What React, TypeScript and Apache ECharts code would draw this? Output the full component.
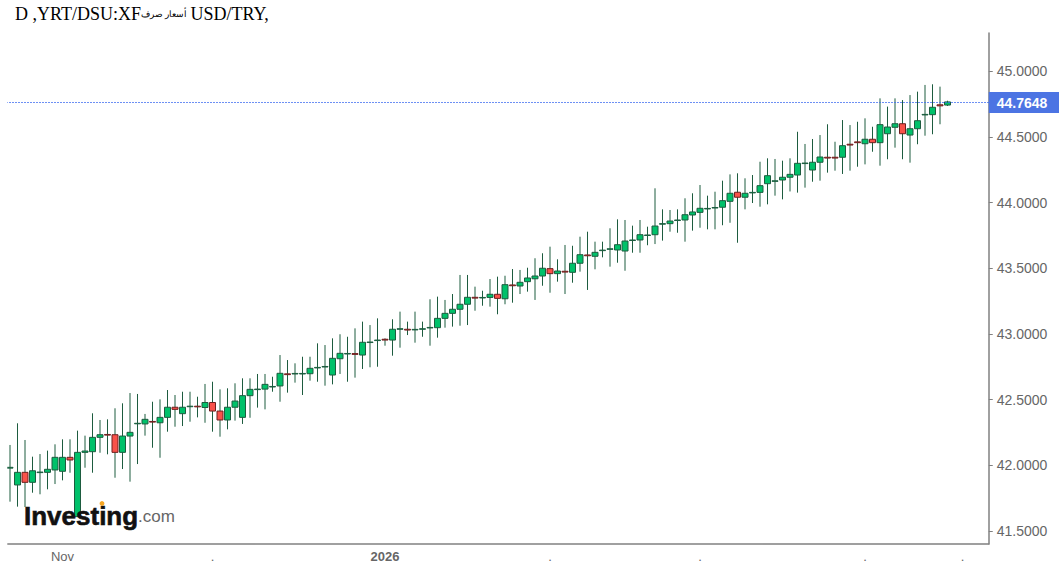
import React, { useEffect, useRef } from "react";
import * as echarts from "echarts";

const opens = [41.980,41.852,41.948,41.872,41.946,41.948,41.966,41.956,42.062,41.611,42.100,42.105,42.214,42.236,42.234,42.100,42.224,42.317,42.316,42.335,42.325,42.366,42.443,42.394,42.447,42.451,42.441,42.479,42.414,42.346,42.443,42.366,42.531,42.577,42.581,42.597,42.605,42.697,42.696,42.696,42.698,42.742,42.749,42.688,42.812,42.848,42.851,42.840,42.935,42.950,42.960,42.954,43.036,43.036,43.031,43.036,43.046,43.048,43.119,43.157,43.188,43.226,43.279,43.274,43.278,43.302,43.268,43.373,43.365,43.398,43.420,43.441,43.497,43.459,43.477,43.469,43.538,43.601,43.591,43.634,43.644,43.639,43.631,43.711,43.715,43.749,43.755,43.835,43.839,43.863,43.867,43.905,43.925,43.951,43.958,43.964,44.009,44.078,44.040,44.073,44.077,44.143,44.161,44.171,44.192,44.209,44.296,44.247,44.306,44.344,44.344,44.344,44.443,44.461,44.447,44.481,44.455,44.523,44.572,44.599,44.513,44.561,44.666,44.668,44.743,44.741];
const closes = [41.986,41.948,41.872,41.960,41.950,41.971,42.062,42.062,42.042,42.100,42.110,42.214,42.234,42.231,42.100,42.224,42.252,42.321,42.351,42.330,42.366,42.443,42.427,42.443,42.451,42.446,42.479,42.414,42.346,42.443,42.490,42.531,42.579,42.581,42.617,42.601,42.701,42.691,42.700,42.700,42.739,42.746,42.753,42.815,42.853,42.852,42.845,42.937,42.939,42.954,42.954,43.036,43.040,43.030,43.035,43.040,43.050,43.119,43.157,43.188,43.226,43.279,43.273,43.278,43.302,43.271,43.375,43.367,43.393,43.426,43.441,43.500,43.459,43.479,43.471,43.538,43.603,43.595,43.621,43.638,43.648,43.679,43.707,43.715,43.755,43.753,43.821,43.839,43.859,43.867,43.907,43.928,43.956,43.955,43.962,44.014,44.070,44.040,44.070,44.077,44.128,44.204,44.165,44.192,44.214,44.298,44.300,44.306,44.346,44.338,44.338,44.432,44.437,44.455,44.481,44.455,44.592,44.574,44.599,44.523,44.561,44.622,44.670,44.724,44.735,44.7648];
const lows = [41.725,41.687,41.684,41.793,41.781,41.819,41.859,41.887,41.945,41.611,41.983,41.945,42.097,42.085,41.907,41.973,41.877,42.011,42.227,42.135,42.059,42.257,42.295,42.300,42.333,42.366,42.325,42.257,42.219,42.275,42.341,42.316,42.363,42.440,42.427,42.561,42.485,42.554,42.630,42.536,42.645,42.637,42.607,42.617,42.696,42.637,42.668,42.734,42.747,42.751,42.911,42.835,42.896,42.992,42.934,42.979,42.911,42.972,43.048,43.056,43.063,43.068,43.177,43.215,43.208,43.150,43.226,43.238,43.304,43.322,43.259,43.367,43.314,43.398,43.304,43.390,43.474,43.335,43.492,43.583,43.512,43.542,43.481,43.618,43.618,43.675,43.684,43.710,43.778,43.770,43.702,43.786,43.808,43.796,43.796,43.827,43.846,43.694,43.948,43.996,43.968,43.986,44.052,44.024,44.084,44.075,44.113,44.158,44.166,44.227,44.242,44.217,44.242,44.272,44.290,44.386,44.280,44.329,44.417,44.329,44.303,44.443,44.508,44.519,44.595,44.734];
const highs = [42.156,42.321,42.194,42.067,42.087,42.113,42.161,42.199,42.199,42.265,42.227,42.397,42.346,42.351,42.435,42.473,42.551,42.544,42.392,42.485,42.503,42.574,42.536,42.561,42.561,42.523,42.620,42.637,42.579,42.587,42.625,42.663,42.663,42.696,42.696,42.675,42.840,42.802,42.777,42.827,42.827,42.929,42.916,42.967,42.998,42.979,43.043,43.094,43.068,43.119,42.967,43.112,43.170,43.094,43.170,43.094,43.264,43.284,43.259,43.304,43.449,43.449,43.360,43.329,43.418,43.436,43.443,43.494,43.487,43.504,43.576,43.614,43.664,43.568,43.677,43.671,43.740,43.778,43.702,43.702,43.804,43.872,43.867,43.824,43.867,43.816,44.108,43.948,43.943,43.948,44.032,44.070,44.133,44.052,44.082,44.166,44.214,44.222,44.184,44.209,44.310,44.336,44.331,44.318,44.336,44.538,44.445,44.483,44.513,44.595,44.462,44.627,44.589,44.614,44.640,44.576,44.792,44.729,44.792,44.779,44.817,44.843,44.894,44.899,44.881,44.774];

const emptySlots = 5;
const categories = [...opens.map((_, i) => String(i)), ...Array.from({ length: emptySlots }, (_, i) => String(opens.length + i))];
const timeLabels: Record<number, string> = { 7: "Nov", 27: ".", 50: "2026", 72: ".", 92: ".", 114: ".", 127: "." };
const priceTicks = [41.5, 42, 42.5, 43, 43.5, 44, 44.5, 45];
const lastPrice = 44.7648;
const titleLatinA = "D ,YRT/DSU:XF";
const titleArabic = "أسعار صرف";
const titleLatinB = "USD/TRY,";

const candleData = opens.map((o, i) => [i, o, closes[i], lows[i], highs[i]]);

const renderCandle = (_: any, api: any) => {
  const i = api.value(0);
  const o = api.value(1);
  const c = api.value(2);
  const up = c >= o;
  const [x, yTop] = api.coord([i, Math.max(o, c)]);
  const [, yBot] = api.coord([i, Math.min(o, c)]);
  const [, yLow] = api.coord([i, api.value(3)]);
  const [, yHigh] = api.coord([i, api.value(4)]);
  const w = 6;
  return {
    type: "group",
    children: [
      { type: "line", shape: { x1: x, y1: yHigh, x2: x, y2: yLow }, style: { stroke: "#1d5c3f", lineWidth: 1 } },
      {
        type: "rect",
        shape: { x: x - w / 2, y: yTop, width: w, height: Math.max(yBot - yTop, 0.5) },
        style: { fill: up ? "#00c16a" : "#f9524a", stroke: up ? "#1d5c3f" : "#6e1f1f", lineWidth: 1 },
      },
    ],
  };
};

export default function App() {
  const ref = useRef<HTMLDivElement>(null);
  useEffect(() => {
    document.body.style.margin = "0";
    document.body.style.overflow = "hidden";
    const chart = echarts.init(ref.current!, null, { renderer: "svg" });
    chart.setOption({
      animation: false,
      backgroundColor: "#ffffff",
      grid: { left: 6.25, right: 70.25, top: 33, bottom: 28 },
      xAxis: {
        type: "category",
        data: categories,
        boundaryGap: true,
        axisLine: { lineStyle: { color: "#808080", width: 1.5 } },
        axisTick: { alignWithLabel: true, length: 4, interval: (i: number) => i in timeLabels, lineStyle: { color: "#808080" } },
        axisLabel: {
          interval: (i: number) => i in timeLabels,
          margin: 6,
          fontFamily: "Liberation Sans",
          fontSize: 13,
          color: "#666666",
          hideOverlap: false,
          formatter: (_: string, i: number) => {
            const t = timeLabels[i] ?? "";
            return t === "2026" ? `{b|${t}}` : t;
          },
          rich: { b: { fontWeight: "bold", fontFamily: "Liberation Sans", fontSize: 13, color: "#666666" } },
        },
        splitLine: { show: false },
      },
      yAxis: {
        type: "value",
        position: "right",
        min: 41.403,
        max: 45.289,
        axisLine: { show: true, lineStyle: { color: "#808080", width: 1.5 } },
        axisTick: { show: true, length: 4, customValues: priceTicks, lineStyle: { color: "#808080" } },
        axisLabel: {
          customValues: priceTicks,
          margin: 8,
          fontFamily: "Liberation Sans",
          fontSize: 14,
          color: "#666666",
          formatter: (v: number) => v.toFixed(4),
        },
        splitLine: { show: false },
      },
      series: [
        {
          type: "custom",
          data: candleData,
          renderItem: renderCandle,
          encode: { x: 0, y: [1, 2, 3, 4] },
          clip: false,
          silent: true,
          markLine: {
            silent: true,
            symbol: "none",
            animation: false,
            lineStyle: { color: "#3d6bf0", type: [1.5, 1.5], width: 1 },
            label: {
              show: true,
              position: "end",
              distance: 0,
              formatter: () => lastPrice.toFixed(4),
              backgroundColor: "#4c74e3",
              color: "#ffffff",
              fontFamily: "Liberation Sans",
              fontWeight: "bold",
              fontSize: 14,
              padding: [4, 12, 3, 8],
            },
            data: [{ yAxis: lastPrice }],
          },
        },
      ],
      graphic: [
        {
          type: "text",
          left: 15,
          top: 5,
          style: {
            text: `{a|${titleLatinA}}{c|${titleArabic}} {a|${titleLatinB}}`,
            rich: {
              a: { font: "18px 'Liberation Serif'", fill: "#000000" },
              c: { font: "9px 'Liberation Serif'", fill: "#000000" },
            },
          },
        },
        { type: "rect", shape: { x: 0, y: 33, width: 7.3, height: 515 }, style: { fill: "#ffffff" }, z: 10 },
        {
          type: "text",
          x: 24,
          y: 503,
          z: 20,
          style: { text: "Investing", font: "bold 26px 'Liberation Sans'", fill: "#111111", stroke: "#111111", lineWidth: 0.6 },
        },
        {
          type: "text",
          x: 138,
          y: 508,
          z: 20,
          style: { text: ".com", font: "17px 'Liberation Sans'", fill: "#666666" },
        },
        { type: "circle", z: 21, shape: { cx: 102, cy: 503.5, r: 2.4 }, style: { fill: "#f5a623" } },
      ],
    });
    return () => chart.dispose();
  }, []);
  return <div ref={ref} style={{ width: 1059, height: 572 }} />;
}
